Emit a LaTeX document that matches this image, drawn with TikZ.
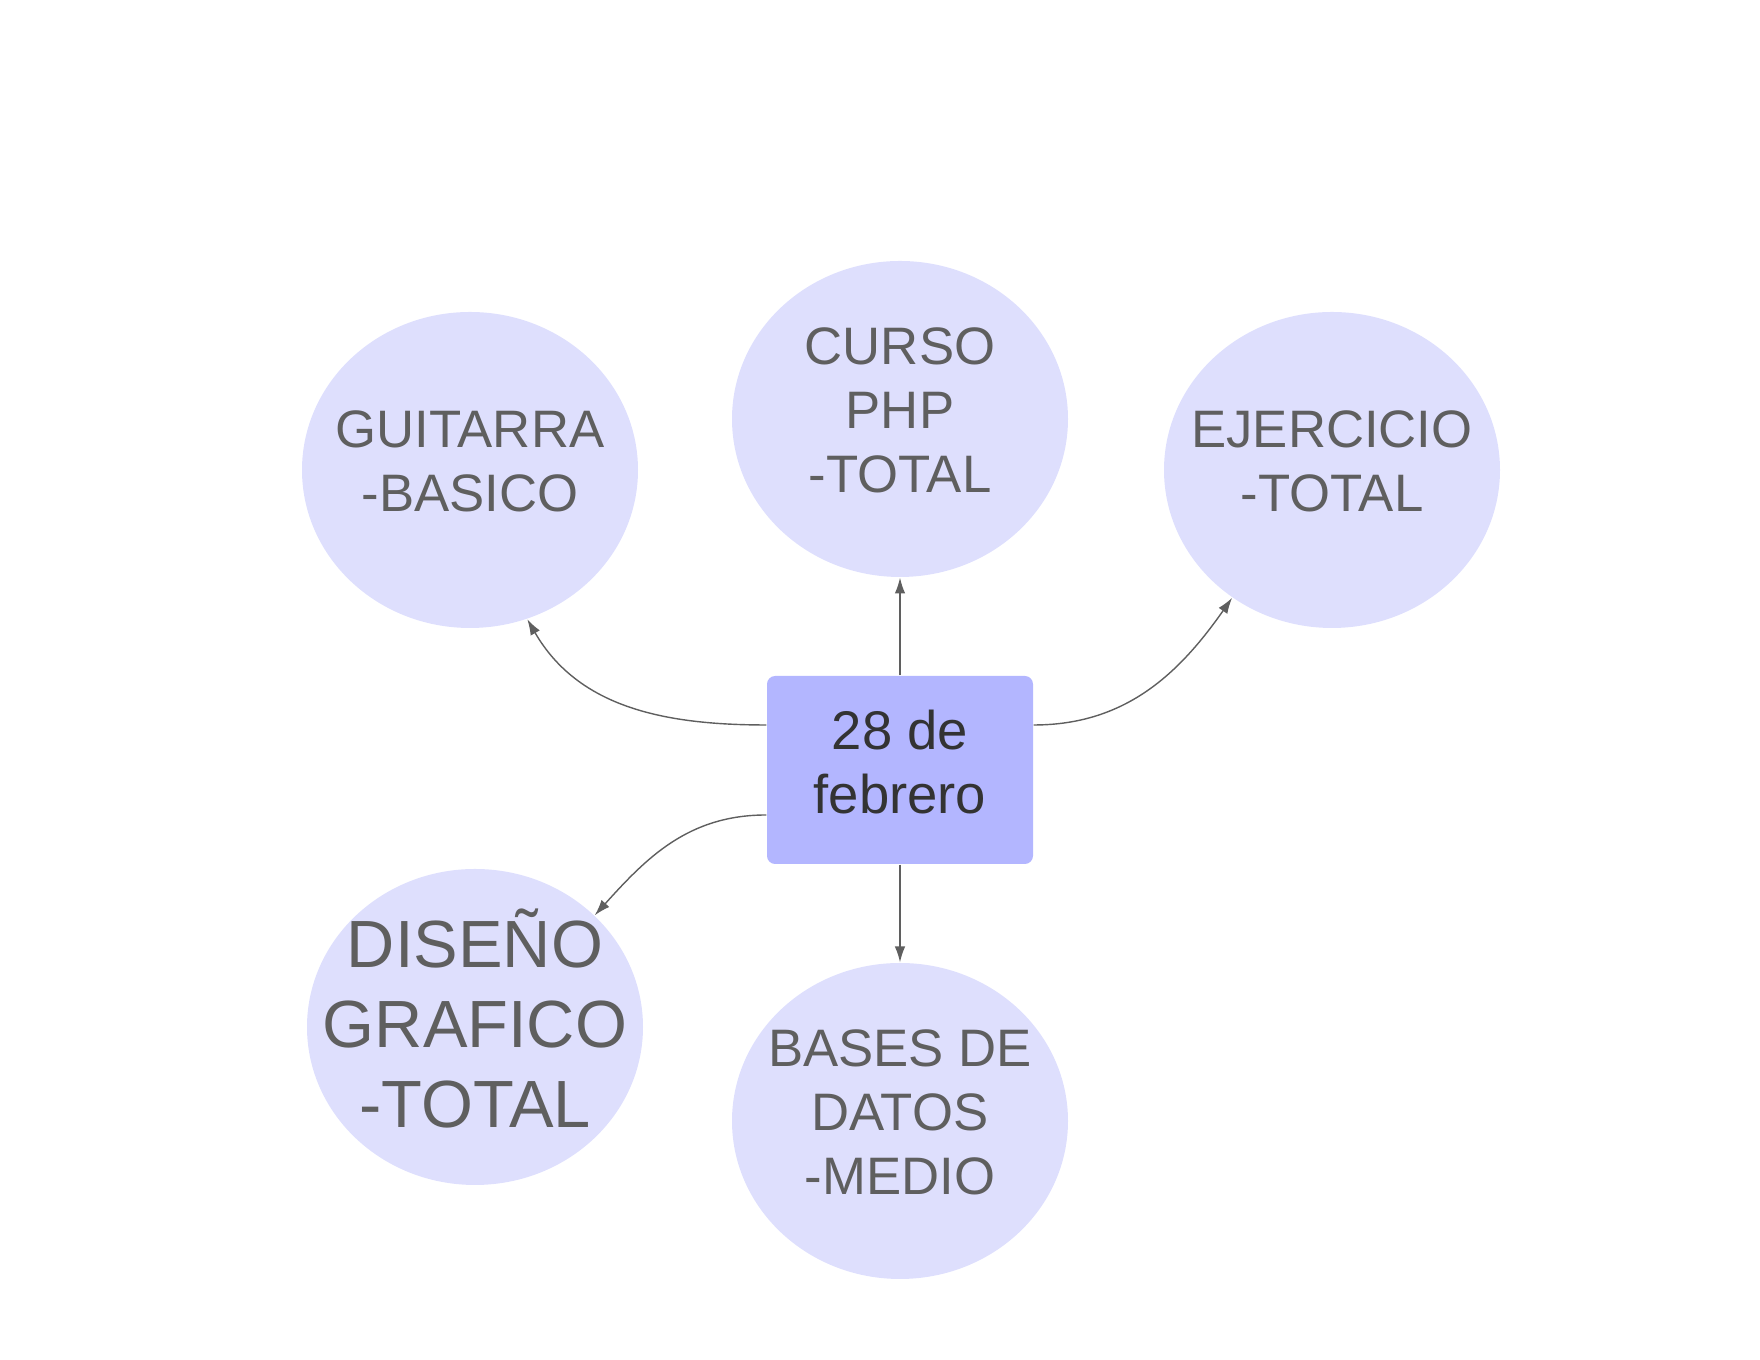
\documentclass[tikz,border=0pt]{standalone}
\usepackage{fontspec}
\setmainfont{Liberation Sans}
\usetikzlibrary{arrows.meta,shapes.geometric}
\definecolor{burbuja}{HTML}{DEDFFD}
\definecolor{caja}{HTML}{B3B6FF}
\definecolor{gris}{HTML}{5F5F5F}
\definecolor{oscuro}{HTML}{333333}
\begin{document}
\begin{tikzpicture}[
    tema/.style={ellipse, fill=burbuja, minimum width=3.36cm, minimum height=3.16cm, inner sep=-0.7cm, align=center, text=gris, text depth=0.18cm, font=\fontsize{15}{18.2}\selectfont},
    centro/.style={rectangle, rounded corners=2.3pt, fill=caja, minimum width=2.66cm, minimum height=1.88cm, align=center, text=oscuro, text depth=0.16cm, font=\fontsize{15.5}{18.2}\selectfont},
    flecha/.style={draw=gris, line width=0.4pt, -{Latex[length=4.5pt,width=3pt]}}
]
\useasboundingbox (0,0) rectangle (17.6,13.6);
\node[centro] (fecha) at (9.00,5.90) {28 de\\febrero};
\node[tema] (guitarra) at (4.70,8.90) {GUITARRA\\-BASICO};
\node[tema] (php) at (9.00,9.41) {CURSO\\PHP\\-TOTAL};
\node[tema] (ejercicio) at (13.32,8.90) {EJERCICIO\\-TOTAL};
\node[tema, font=\fontsize{19}{22.7}\selectfont] (diseno) at (4.75,3.33) {DISEÑO\\GRAFICO\\-TOTAL};
\node[tema] (bases) at (9.00,2.39) {BASES DE\\DATOS\\-MEDIO};
\draw[flecha] (fecha.north) -- (php.south);
\draw[flecha] (fecha.south) -- (bases.north);
\draw[flecha] ([yshift=0.45cm]fecha.west) to[out=180, in=-60] (guitarra.-69);
\draw[flecha] ([yshift=0.45cm]fecha.east) to[out=0, in=-125] (ejercicio.-128);
\draw[flecha] ([yshift=-0.45cm]fecha.west) to[out=180, in=48] (diseno.43);
\end{tikzpicture}
\end{document}
